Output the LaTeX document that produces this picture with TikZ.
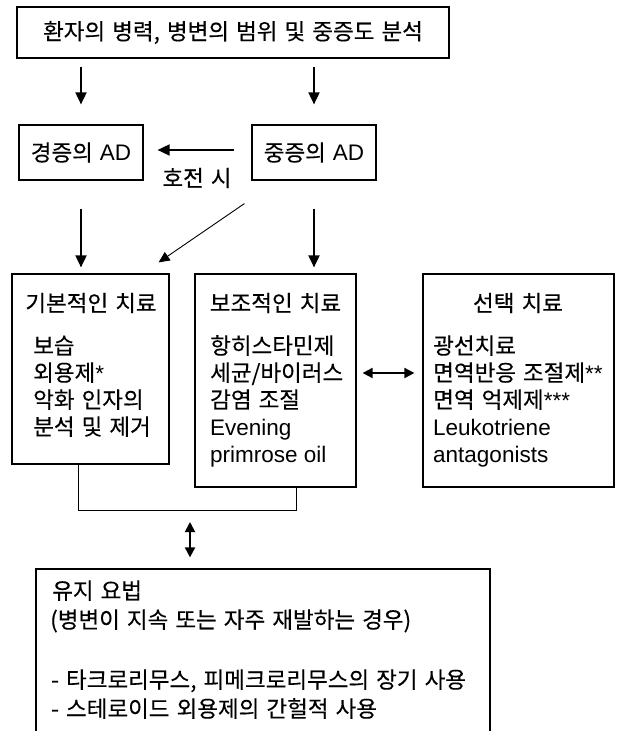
\documentclass[tikz,border=0pt]{standalone}
\usepackage{fontspec}
\setmainfont{Noto Sans CJK KR}[WordSpace=1.4, FakeBold=0.3]
\newfontfamily\lat{Liberation Sans}
\usetikzlibrary{arrows.meta,calc}
\begin{document}
\begin{tikzpicture}[x=1pt,y=-1pt,
  box/.style={draw, line width=1.2pt, inner sep=0pt},
  txt/.style={inner sep=0pt, font=\fontsize{22.5}{27}\selectfont},
  item/.style={txt, anchor=base west},
  arr/.style={line width=1.8pt, -{Triangle[length=12pt,width=11pt]}},
  diag/.style={line width=0.9pt, -{Triangle[length=11pt,width=10pt]}},
  dbl/.style={line width=1.8pt, {Triangle[length=10pt,width=10pt]}-{Triangle[length=10pt,width=10pt]}},
  link/.style={line width=0.9pt}]
\useasboundingbox[fill=white] (0,0) rectangle (617,731);

% boxes
\node[box, minimum width=432pt, minimum height=51pt] (top) at (233,32.5) {};
\node[txt] (toptxt) at (top.center) {환자의 병력, 병변의 범위 및 중증도 분석};
\node[box, minimum width=124pt, minimum height=55pt] (mild) at (81,152.5) {};
\node[txt] (mildtxt) at (mild.center) {경증의 {\lat AD}};
\node[box, minimum width=124pt, minimum height=55pt] (severe) at (314,152.5) {};
\node[txt] (severetxt) at (severe.center) {중증의 {\lat AD}};
\node[txt] (better) at (197,178) {호전 시};

\node[box, minimum width=157pt, minimum height=190pt] (basic) at (90.5,369) {};
\node[box, minimum width=161pt, minimum height=213pt] (aux) at (275.5,380.5) {};
\node[box, minimum width=191pt, minimum height=213pt] (opt) at (518.5,380.5) {};
\node[box, minimum width=454pt, minimum height=200pt] (maint) at (263,669) {};

% headers
\node[txt] (basich) at (91,303) {기본적인 치료};
\node[txt] (auxh) at (275.5,303) {보조적인 치료};
\node[txt] (opth) at (518,303) {선택 치료};

% items
\foreach \t [count=\i] in {보습, 외용제{\lat *}, 악화 인자의, 분석 및 제거}
  \node[item] (b\i) at (33,{354+27*(\i-1)}) {\t};
\foreach \t [count=\i] in {항히스타민제, 세균/바이러스, 감염 조절, {\lat Evening}, {\lat primrose oil}}
  \node[item] (a\i) at (210,{354+27*(\i-1)}) {\t};
\foreach \t [count=\i] in {광선치료, 면역반응 조절제{\lat **}, 면역 억제제{\lat ***}, {\lat Leukotriene}, {\lat antagonists}}
  \node[item] (o\i) at (433,{354+27*(\i-1)}) {\t};

\node[item] (m1) at (52,599) {유지 요법};
\node[item] (m2) at (50,628) {(병변이 지속 또는 자주 재발하는 경우)};
\node[item] (m3) at (51,688) {- 타크로리무스, 피메크로리무스의 장기 사용};
\node[item] (m4) at (51,717) {- 스테로이드 외용제의 간헐적 사용};

% arrows
\draw[arr, shorten <=8pt, shorten >=20pt] (mild |- top.south) -- (mild.north);
\draw[arr, shorten <=8pt, shorten >=20pt] (severe |- top.south) -- (severe.north);
\draw[arr, shorten <=17pt, shorten >=14pt] ([yshift=2.5pt]severe.west) -- ([yshift=2.5pt]mild.east);
\draw[arr, shorten <=28pt, shorten >=6pt] (mild.south) -- (mild.south |- basic.north);
\draw[arr, shorten <=28pt, shorten >=6pt] (severe.south) -- (severe.south |- aux.north);
\draw[diag] ($(severe.south west)+(-7,23)$) -- ($(basic.north east)+(-11,-11)$);
\draw[dbl, shorten <=6pt, shorten >=8pt] ([yshift=7.5pt]aux.east) -- ([yshift=7.5pt]opt.west);

\coordinate (jl) at (78,510);
\coordinate (jr) at (296,510);
\coordinate (jc) at (190,510);
\draw[link] (basic.south -| jl) -- (jl) -- (jr) -- (aux.south -| jr);
\draw[dbl, shorten <=12pt, shorten >=11pt] (jc) -- (maint.north -| jc);
\end{tikzpicture}
\end{document}
